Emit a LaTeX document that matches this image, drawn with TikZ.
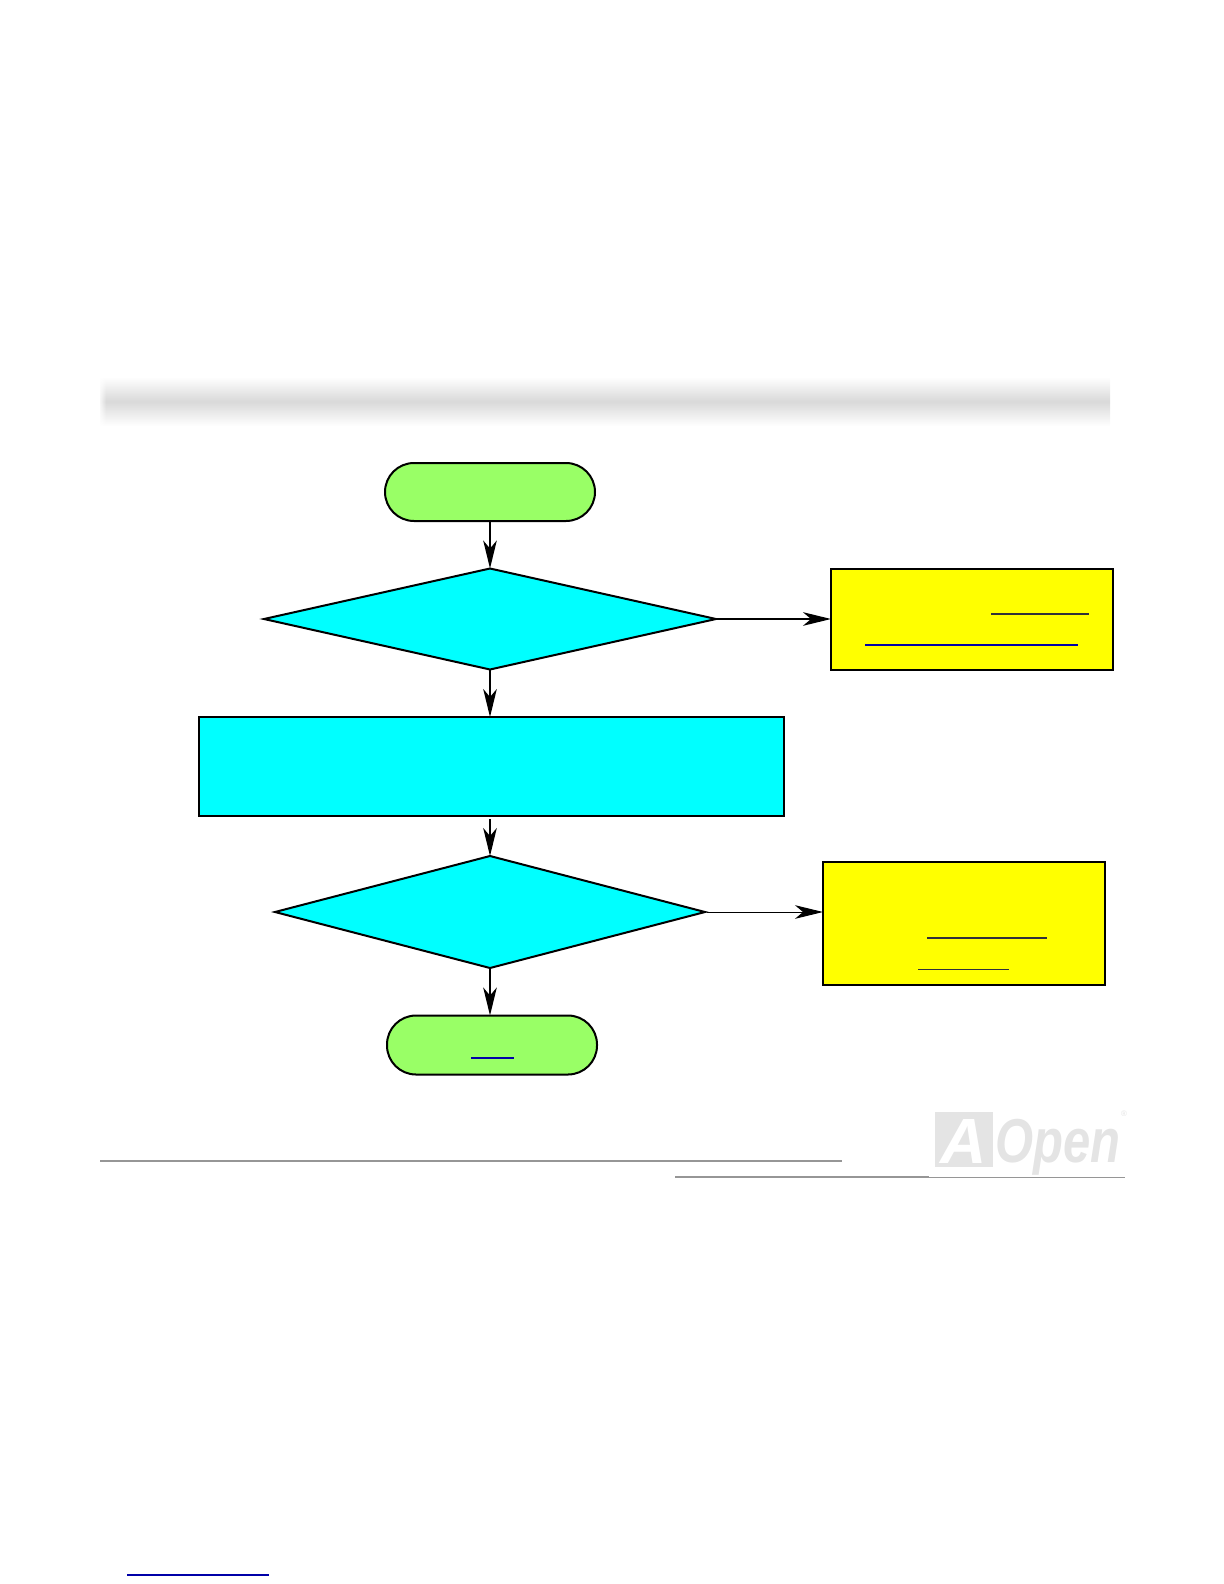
\documentclass[tikz,border=0pt]{standalone}
\usepackage{fontspec}
\setmainfont{Liberation Sans}
\usetikzlibrary{arrows.meta,shapes.geometric,fadings}
\definecolor{pill}{HTML}{99FF66}
\definecolor{cyanfill}{HTML}{00FFFF}
\definecolor{note}{HTML}{FFFF00}
\definecolor{linkblue}{HTML}{0000A8}
\definecolor{linkdark}{HTML}{30303A}
\definecolor{rule}{HTML}{969696}
\definecolor{logogray}{HTML}{E4E4E4}
\tikzset{
  pillbox/.style={draw=black,fill=pill,line width=1pt,rounded corners=14.5pt,inner sep=0pt,outer sep=0pt},
  decision/.style={diamond,aspect=1,draw=black,fill=cyanfill,line width=1pt,inner sep=0pt,outer sep=0pt},
  process/.style={rectangle,draw=black,fill=cyanfill,line width=1pt,inner sep=0pt,outer sep=0pt},
  notebox/.style={rectangle,draw=black,fill=note,line width=1pt,inner sep=0pt,outer sep=0pt},
  flow/.style={draw=black,line width=0.9pt,-{Stealth[length=14pt,width=6.8pt,inset=4pt]}},
  thinflow/.style={flow,line width=0.5pt},
  linkline/.style={linkblue,line width=0.8pt},
  darkline/.style={linkdark,line width=0.9pt},
  rulegray/.style={rule,line width=1.2pt}
}
\begin{document}
\begin{tikzpicture}[x=0.5pt,y=-0.5pt]
\useasboundingbox (0,0) rectangle (1224,1584);
% header band
\shade[top color=white,bottom color=white,middle color=black!15] (100,377) rectangle (1110,426);
\fill[white,path fading=east] (98,375) rectangle (106,428);
% flowchart nodes
\node[pillbox,minimum width=105pt,minimum height=29pt] (start) at (490,492) {};
\node[decision,minimum width=226pt,minimum height=50.5pt] (d1) at (490,619) {};
\node[notebox,minimum width=141pt,minimum height=50.5pt] (n1) at (972,619) {};
\node[process,minimum width=292.5pt,minimum height=49.5pt] (proc) at (491.5,766.5) {};
\node[decision,minimum width=215pt,minimum height=56pt] (d2) at (490,912) {};
\node[notebox,minimum width=141pt,minimum height=61.5pt] (n2) at (964,923.2) {};
\node[pillbox,minimum width=105pt,minimum height=29.5pt] (end) at (492,1045) {};
% connectors
\draw[flow] (start.south -| d1.north) -- (d1.north);
\draw[flow] (d1.east) -- (n1.west |- d1.east);
\draw[flow] (d1.south) -- (d1.south |- proc.north);
\draw[flow,shorten <=1.5pt] (d2.north |- proc.south) -- (d2.north);
\draw[thinflow,shorten <=1pt] (d2.east) -- (n2.west |- d2.east);
\draw[flow] (d2.south) -- (d2.south |- end.north);
% hyperlink underlines
\draw[darkline] (991,614) -- (1089,614);
\draw[linkline] (865,645) -- (1078,645);
\draw[darkline] (927,938) -- (1047,938);
\draw[darkline,line width=0.5pt] (918,969.5) -- (1009,969.5);
\draw[linkline] (471,1058) -- (514,1058);
\draw[linkline] (127,1575) -- (269,1575);
% footer rules
\draw[rulegray] (100,1161) -- (842,1161);
\draw[rulegray] (675,1177) -- (929,1177);
\draw[rule,line width=0.5pt] (929,1177) -- (1125,1177);
% logo
\fill[logogray] (935,1112) rectangle (993,1167);
\node[text=white,font=\bfseries\itshape\fontsize{32}{32}\selectfont,inner sep=0pt,anchor=base] (logoA) at (964,1163) {A};
\node[text=logogray,font=\bfseries\itshape\fontsize{31}{31}\selectfont,inner sep=0pt,anchor=base west] (logoOpen) at (995,1162) {\scalebox{0.79}[1]{Open}};
\node[text=logogray,font=\fontsize{4}{4}\selectfont,inner sep=0pt] (logoR) at (1124,1114) {®};
\end{tikzpicture}
\end{document}
